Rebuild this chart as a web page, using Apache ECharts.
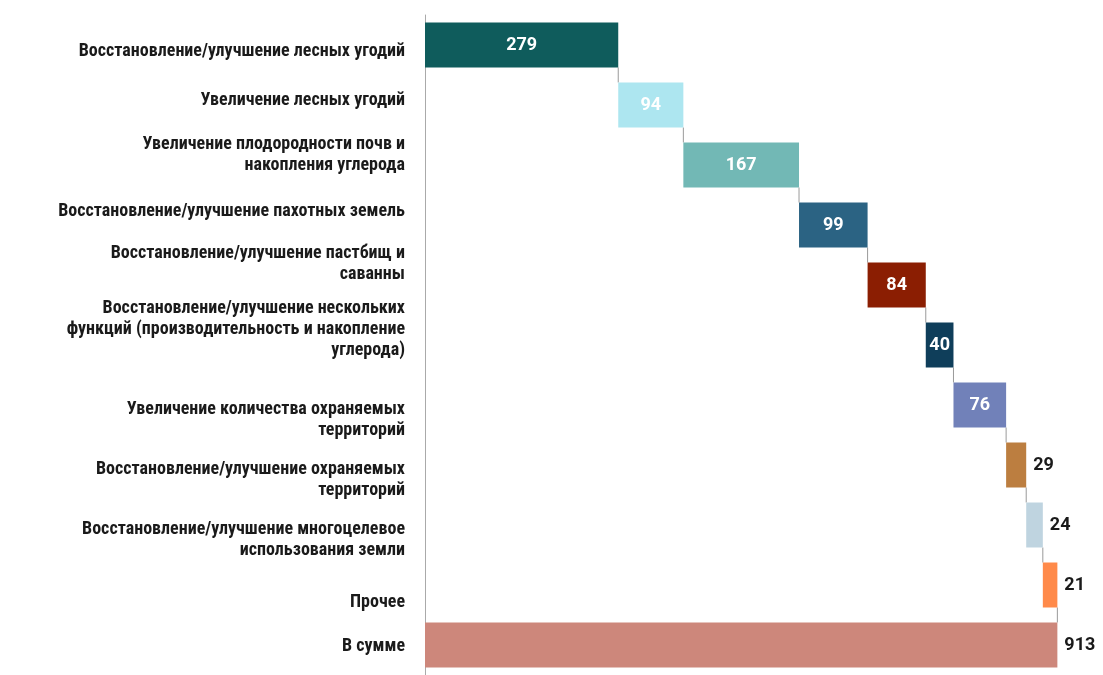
<!DOCTYPE html>
<html><head><meta charset="utf-8">
<script src="https://cdn.jsdelivr.net/npm/echarts@6/dist/echarts.min.js"></script>
<style>html,body{margin:0;padding:0;background:#fff;}#c{width:1103px;height:675px;}</style>
</head><body><div id="c"></div>
<script>
const categories = [
  "Восстановление/улучшение лесных угодий",
  "Увеличение лесных угодий",
  "Увеличение плодородности почв и\nнакопления углерода",
  "Восстановление/улучшение пахотных земель",
  "Восстановление/улучшение пастбищ и\nсаванны",
  "Восстановление/улучшение нескольких\nфункций (производительность и накопление\nуглерода)",
  "Увеличение количества охраняемых\nтерриторий",
  "Восстановление/улучшение охраняемых\nтерриторий",
  "Восстановление/улучшение многоцелевое\nиспользования земли",
  "Прочее",
  "В сумме"
];
const values = [279, 94, 167, 99, 84, 40, 76, 29, 24, 21];
const total = 913;

const colors = ['#0f5c5c','#ade6f0','#72b8b5','#2b6383','#8b1e02','#0f3e5a','#7181b9','#bc7e40','#bfd4e0','#ff8a4a','#cd877b'];
const insideLabel = [true,true,true,true,true,true,true,false,false,false,false];
const labelShift = [6,-5,-10,-14,-21,-16,15,15,15,17,1];

const base = [], amounts = [], cum = [];
let s = 0;
values.forEach(v => { base.push(s); amounts.push(v); s += v; cum.push(s); });
base.push(0); amounts.push(total); cum.push(total);

const chart = echarts.init(document.getElementById('c'), null, {renderer:'canvas'});
const barFrac = 0.75;
chart.setOption({
  animation:false,
  grid:{left:425, right:20, top:15, bottom:0},
  xAxis:{type:'value', min:0, max:950, show:false},
  yAxis:{type:'category', data:categories, inverse:true,
    axisLine:{lineStyle:{color:'#aaaaaa', width:1}}, axisTick:{show:false},
    axisLabel:{show:false}},
  series:[
    {type:'bar', stack:'w', data:base, itemStyle:{color:'transparent'}, barWidth: (barFrac*100)+'%', silent:true},
    {type:'bar', stack:'w', barWidth:(barFrac*100)+'%',
      data: amounts.map((v,i)=>({value:v, itemStyle:{color:colors[i]},
        label: insideLabel[i] ? {position:'inside', color:'#ffffff'} : {position:'right', distance:7, color:'#1a1a1a'}})),
      label:{show:true, fontFamily:'Roboto', fontWeight:'bold', fontSize:18}},
    {type:'custom', silent:true, z:1,
      data: cum.slice(0, cum.length-1).map((c,i)=>[c,i]),
      renderItem:(params, api)=>{
        const i = api.value(1);
        const p1 = api.coord([api.value(0), i]);
        const p2 = api.coord([api.value(0), i+1]);
        const h = api.size([0,1])[1]*barFrac/2;
        return {type:'line', shape:{x1:p1[0], y1:p1[1]+h, x2:p2[0], y2:p2[1]-h},
          style:{stroke:'#9a9a9a', lineWidth:1}};
      }},
    {type:'custom', silent:true, clip:false,
      data: categories.map((c,i)=>[0,i]),
      renderItem:(params, api)=>{
        const i = api.value(1);
        const p = api.coord([0, i]);
        return {type:'text', style:{x:p[0]-20, y:p[1]+labelShift[i], text:categories[i],
          align:'right', verticalAlign:'middle', fill:'#1a1a1a', lineHeight:21,
          font:"bold 18px 'Liberation Sans Narrow', 'Roboto Condensed', 'Arial Narrow', Roboto, sans-serif"}};
      }}
  ]
});
</script></body></html>
